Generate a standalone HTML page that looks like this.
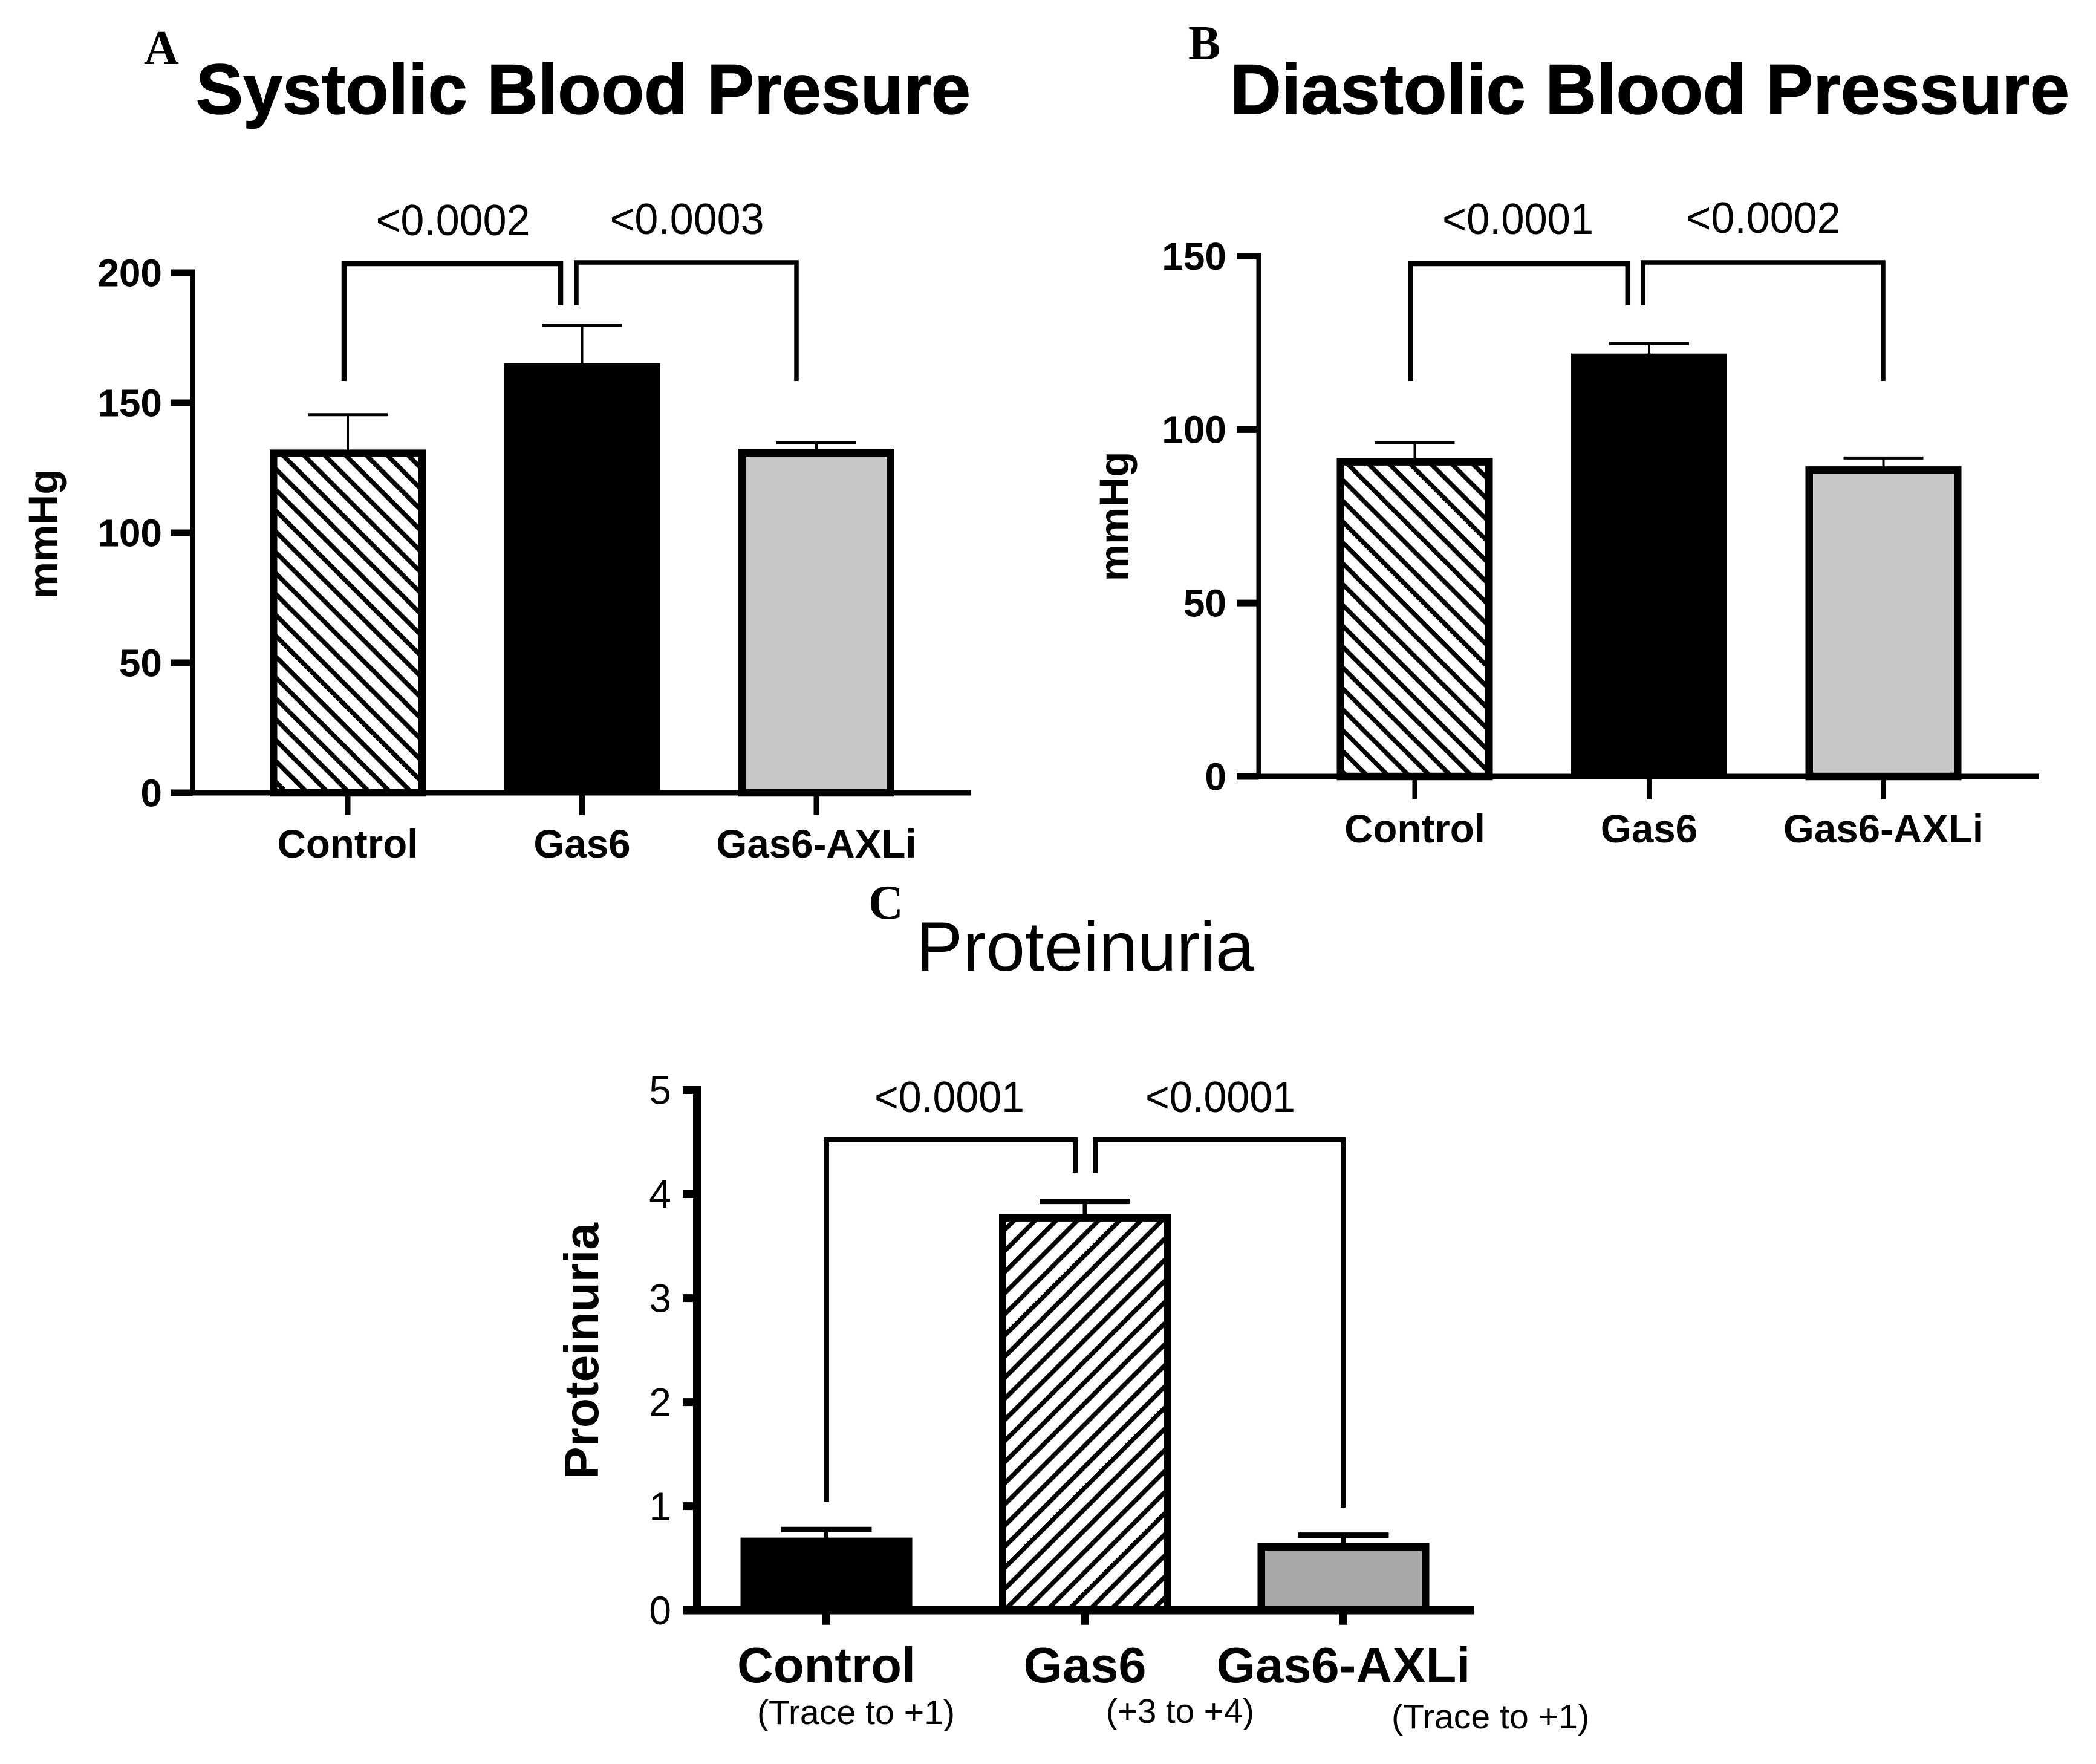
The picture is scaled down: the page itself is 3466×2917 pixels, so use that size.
<!DOCTYPE html>
<html lang="en">
<head>
<meta charset="utf-8">
<title>Blood pressure and proteinuria bar charts</title>
<style>
html,body{margin:0;padding:0;background:#fff;}
svg{display:block;}
text{font-family:"Liberation Sans",Arial,sans-serif;fill:#000;}
.letter{font-family:"Liberation Serif","Times New Roman",serif;font-weight:bold;}
.heavy{stroke:#000;stroke-width:1.5;}
</style>
</head>
<body>
<svg id="figure" xmlns="http://www.w3.org/2000/svg" width="3466" height="2917" viewBox="0 0 3466 2917">
  <defs>
    <pattern id="hatch-a" patternUnits="userSpaceOnUse" x="-205.25" width="24.39" height="24.39" patternTransform="rotate(-45)">
      <rect width="25" height="25" fill="#fff"/>
      <rect width="7.5" height="25" fill="#000"/>
    </pattern>
    <pattern id="hatch-b" patternUnits="userSpaceOnUse" x="688" width="24.39" height="24.39" patternTransform="rotate(-45)">
      <rect width="25" height="25" fill="#fff"/>
      <rect width="7.5" height="25" fill="#000"/>
    </pattern>
    <pattern id="hatch-c" patternUnits="userSpaceOnUse" x="2633.75" width="24.7" height="24.7" patternTransform="rotate(45)">
      <rect width="25" height="25" fill="#fff"/>
      <rect width="7.5" height="25" fill="#000"/>
    </pattern>
  </defs>
  <rect width="3466" height="2917" fill="#fff"/>

  <text class="letter" x="238" y="106" font-size="80">A</text>
  <text class="letter" x="1965" y="98" font-size="80">B</text>
  <text class="letter" x="1436" y="1519" font-size="80">C</text>

  <text class="heavy" x="324" y="188" font-size="117" font-weight="bold" textLength="1281" lengthAdjust="spacingAndGlyphs">Systolic Blood Presure</text>
  <text class="heavy" x="2034" y="188" font-size="117" font-weight="bold" textLength="1388" lengthAdjust="spacingAndGlyphs">Diastolic Blood Pressure</text>
  <text x="1515" y="1605" font-size="115" textLength="559" lengthAdjust="spacingAndGlyphs">Proteinuria</text>

  <text transform="translate(95 883) rotate(-90)" text-anchor="middle" font-size="69" font-weight="bold">mmHg</text>
  <text transform="translate(1866 854) rotate(-90)" text-anchor="middle" font-size="69" font-weight="bold">mmHg</text>
  <text transform="translate(989 2234) rotate(-90)" text-anchor="middle" font-size="80" font-weight="bold" textLength="424" lengthAdjust="spacingAndGlyphs">Proteinuria</text>

  <g id="plots"></g>

  <g>
    <path d="M569 630V436H927V505" fill="none" stroke="#000" stroke-width="8.5"/>
    <path d="M953 505V434H1317V630" fill="none" stroke="#000" stroke-width="7.5"/>
    <text x="749" y="389" font-size="72" text-anchor="middle" textLength="255" lengthAdjust="spacingAndGlyphs">&lt;0.0002</text>
    <text x="1136" y="387" font-size="72" text-anchor="middle" textLength="255" lengthAdjust="spacingAndGlyphs">&lt;0.0003</text>
  </g>
  <g>
    <path d="M2332.6 630V436H2691.8V505" fill="none" stroke="#000" stroke-width="8.5"/>
    <path d="M2716.8 505V434H3114V630" fill="none" stroke="#000" stroke-width="7.5"/>
    <text x="2510" y="387" font-size="72" text-anchor="middle" textLength="250" lengthAdjust="spacingAndGlyphs">&lt;0.0001</text>
    <text x="2916" y="385" font-size="72" text-anchor="middle" textLength="255" lengthAdjust="spacingAndGlyphs">&lt;0.0002</text>
  </g>
  <g>
    <path d="M1367 2483V1885H1778V1939" fill="none" stroke="#000" stroke-width="8"/>
    <path d="M1811.5 1939V1885H2221V2493" fill="none" stroke="#000" stroke-width="8"/>
    <text x="1570" y="1839" font-size="72" text-anchor="middle" textLength="248" lengthAdjust="spacingAndGlyphs">&lt;0.0001</text>
    <text x="2018" y="1839" font-size="72" text-anchor="middle" textLength="248" lengthAdjust="spacingAndGlyphs">&lt;0.0001</text>
  </g>

  <text x="1252" y="2851" font-size="57" textLength="327" lengthAdjust="spacingAndGlyphs">(Trace to +1)</text>
  <text x="1829" y="2849" font-size="57" textLength="245" lengthAdjust="spacingAndGlyphs">(+3 to +4)</text>
  <text x="2301" y="2858" font-size="57" textLength="327" lengthAdjust="spacingAndGlyphs">(Trace to +1)</text>
</svg>

<script>
// Chart data
const categories = ["Control", "Gas6", "Gas6-AXLi"];

const systolicValues = [132, 165.2, 132.2];
const systolicErrorTops = [145.4, 179.8, 134.6];
const systolicTicks = [0, 50, 100, 150, 200];

const diastolicValues = [91.8, 121.9, 89.4];
const diastolicErrorTops = [96.2, 124.8, 91.8];
const diastolicTicks = [0, 50, 100, 150];

const proteinuriaValues = [0.698, 3.806, 0.645];
const proteinuriaErrorTops = [0.776, 3.93, 0.721];
const proteinuriaTicks = [0, 1, 2, 3, 4, 5];

const SVG_NS = "http://www.w3.org/2000/svg";
const plots = document.getElementById("plots");

function make(parent, tag, attrs) {
  const el = document.createElementNS(SVG_NS, tag);
  for (const k in attrs) el.setAttribute(k, attrs[k]);
  parent.appendChild(el);
  return el;
}

function drawPanel(p) {
  const yMax = p.ticks[p.ticks.length - 1];
  const yScale = v => p.y0 - (v / yMax) * (p.y0 - p.yTop);
  const xScale = i => p.xStart + i * p.xStep;

  const g = make(plots, "g", {});
  
  

  // bars with error bars
  categories.forEach((cat, i) => {
    const style = p.barStyles[i];
    const cx = xScale(i);
    const top = yScale(p.values[i]);
    const inset = style.sw / 2;
    const errTop = yScale(p.errorTops[i]);

    const stem = make(g, "line", {
      x1: cx, x2: cx, y1: errTop, y2: top + 2,
      stroke: "#000", "stroke-width": p.stemW
    });
    
    

    const cap = make(g, "line", {
      x1: cx - p.capW / 2, x2: cx + p.capW / 2, y1: errTop, y2: errTop,
      stroke: "#000", "stroke-width": p.capT
    });
    
    

    const bar = make(g, "rect", {
      x: cx - p.barW / 2 + inset,
      y: top + inset,
      width: p.barW - inset * 2,
      height: Math.max(0, p.y0 - top - inset),
      fill: style.fill,
      stroke: style.sw ? "#000" : "none",
      "stroke-width": style.sw
    });
    
    
  });

  // axes
  const yAxis = make(g, "line", {
    x1: p.xAxis, x2: p.xAxis, y1: p.yTop - p.yTickW / 2, y2: p.y0 + p.xAxisW / 2,
    stroke: "#000", "stroke-width": p.yAxisW
  });
  
  

  const xAxis = make(g, "line", {
    x1: p.tickLeft, x2: p.xRight, y1: p.y0, y2: p.y0,
    stroke: "#000", "stroke-width": p.xAxisW
  });
  
  

  // y ticks
  p.ticks.forEach(t => {
    const y = yScale(t);
    const tick = make(g, "line", {
      x1: p.tickLeft, x2: p.xAxis, y1: y, y2: y,
      stroke: "#000", "stroke-width": p.yTickW
    });
    
    

    const label = make(g, "text", {
      x: p.tickLabelX, y: y + p.tickFont * 0.35,
      "text-anchor": "end", "font-size": p.tickFont, "font-weight": p.tickWeight
    });
    label.textContent = t;
    
    
  });

  // x ticks and category labels
  categories.forEach((cat, i) => {
    const cx = xScale(i);
    const tick = make(g, "line", {
      x1: cx, x2: cx, y1: p.y0, y2: p.y0 + p.xTickLen,
      stroke: "#000", "stroke-width": p.xTickW
    });
    
    

    const label = make(g, "text", {
      x: cx, y: p.catY, "text-anchor": "middle",
      "font-size": p.catFont, "font-weight": "bold"
    });
    label.textContent = cat;
    
    
  });
}

drawPanel({
  name: "systolic", values: systolicValues, errorTops: systolicErrorTops, ticks: systolicTicks,
  y0: 1311, yTop: 451, xAxis: 318.5, tickLeft: 282, xRight: 1606,
  xStart: 575, xStep: 387.5, barW: 258, capW: 132, stemW: 4, capT: 5,
  yAxisW: 8.5, xAxisW: 9, yTickW: 11, xTickW: 9, xTickLen: 37,
  tickLabelX: 268, tickFont: 64, tickWeight: "bold", catY: 1418, catFont: 65.5,
  barStyles: [
    { fill: "url(#hatch-a)", sw: 12.5 },
    { fill: "#000", sw: 0 },
    { fill: "#c8c8c8", sw: 12.5 }
  ]
});

drawPanel({
  name: "diastolic", values: diastolicValues, errorTops: diastolicErrorTops, ticks: diastolicTicks,
  y0: 1284, yTop: 423.5, xAxis: 2081.5, tickLeft: 2045, xRight: 3372,
  xStart: 2339.5, xStep: 387.5, barW: 258, capW: 132, stemW: 4, capT: 5,
  yAxisW: 8, xAxisW: 9, yTickW: 11, xTickW: 8, xTickLen: 37.7,
  tickLabelX: 2028, tickFont: 64, tickWeight: "bold", catY: 1393, catFont: 65.5,
  barStyles: [
    { fill: "url(#hatch-b)", sw: 12.5 },
    { fill: "#000", sw: 0 },
    { fill: "#c8c8c8", sw: 12.5 }
  ]
});

drawPanel({
  name: "proteinuria", values: proteinuriaValues, errorTops: proteinuriaErrorTops, ticks: proteinuriaTicks,
  y0: 2662.7, yTop: 1802.5, xAxis: 1153, tickLeft: 1129, xRight: 2437,
  xStart: 1366.5, xStep: 427.5, barW: 284, capW: 150, stemW: 7, capT: 9,
  yAxisW: 14, xAxisW: 13.5, yTickW: 13, xTickW: 13, xTickLen: 24,
  tickLabelX: 1110, tickFont: 66, tickWeight: "normal", catY: 2782, catFont: 83,
  barStyles: [
    { fill: "#000", sw: 0 },
    { fill: "url(#hatch-c)", sw: 12 },
    { fill: "#a8a8a8", sw: 12.5 }
  ]
});
</script>
</body>
</html>
